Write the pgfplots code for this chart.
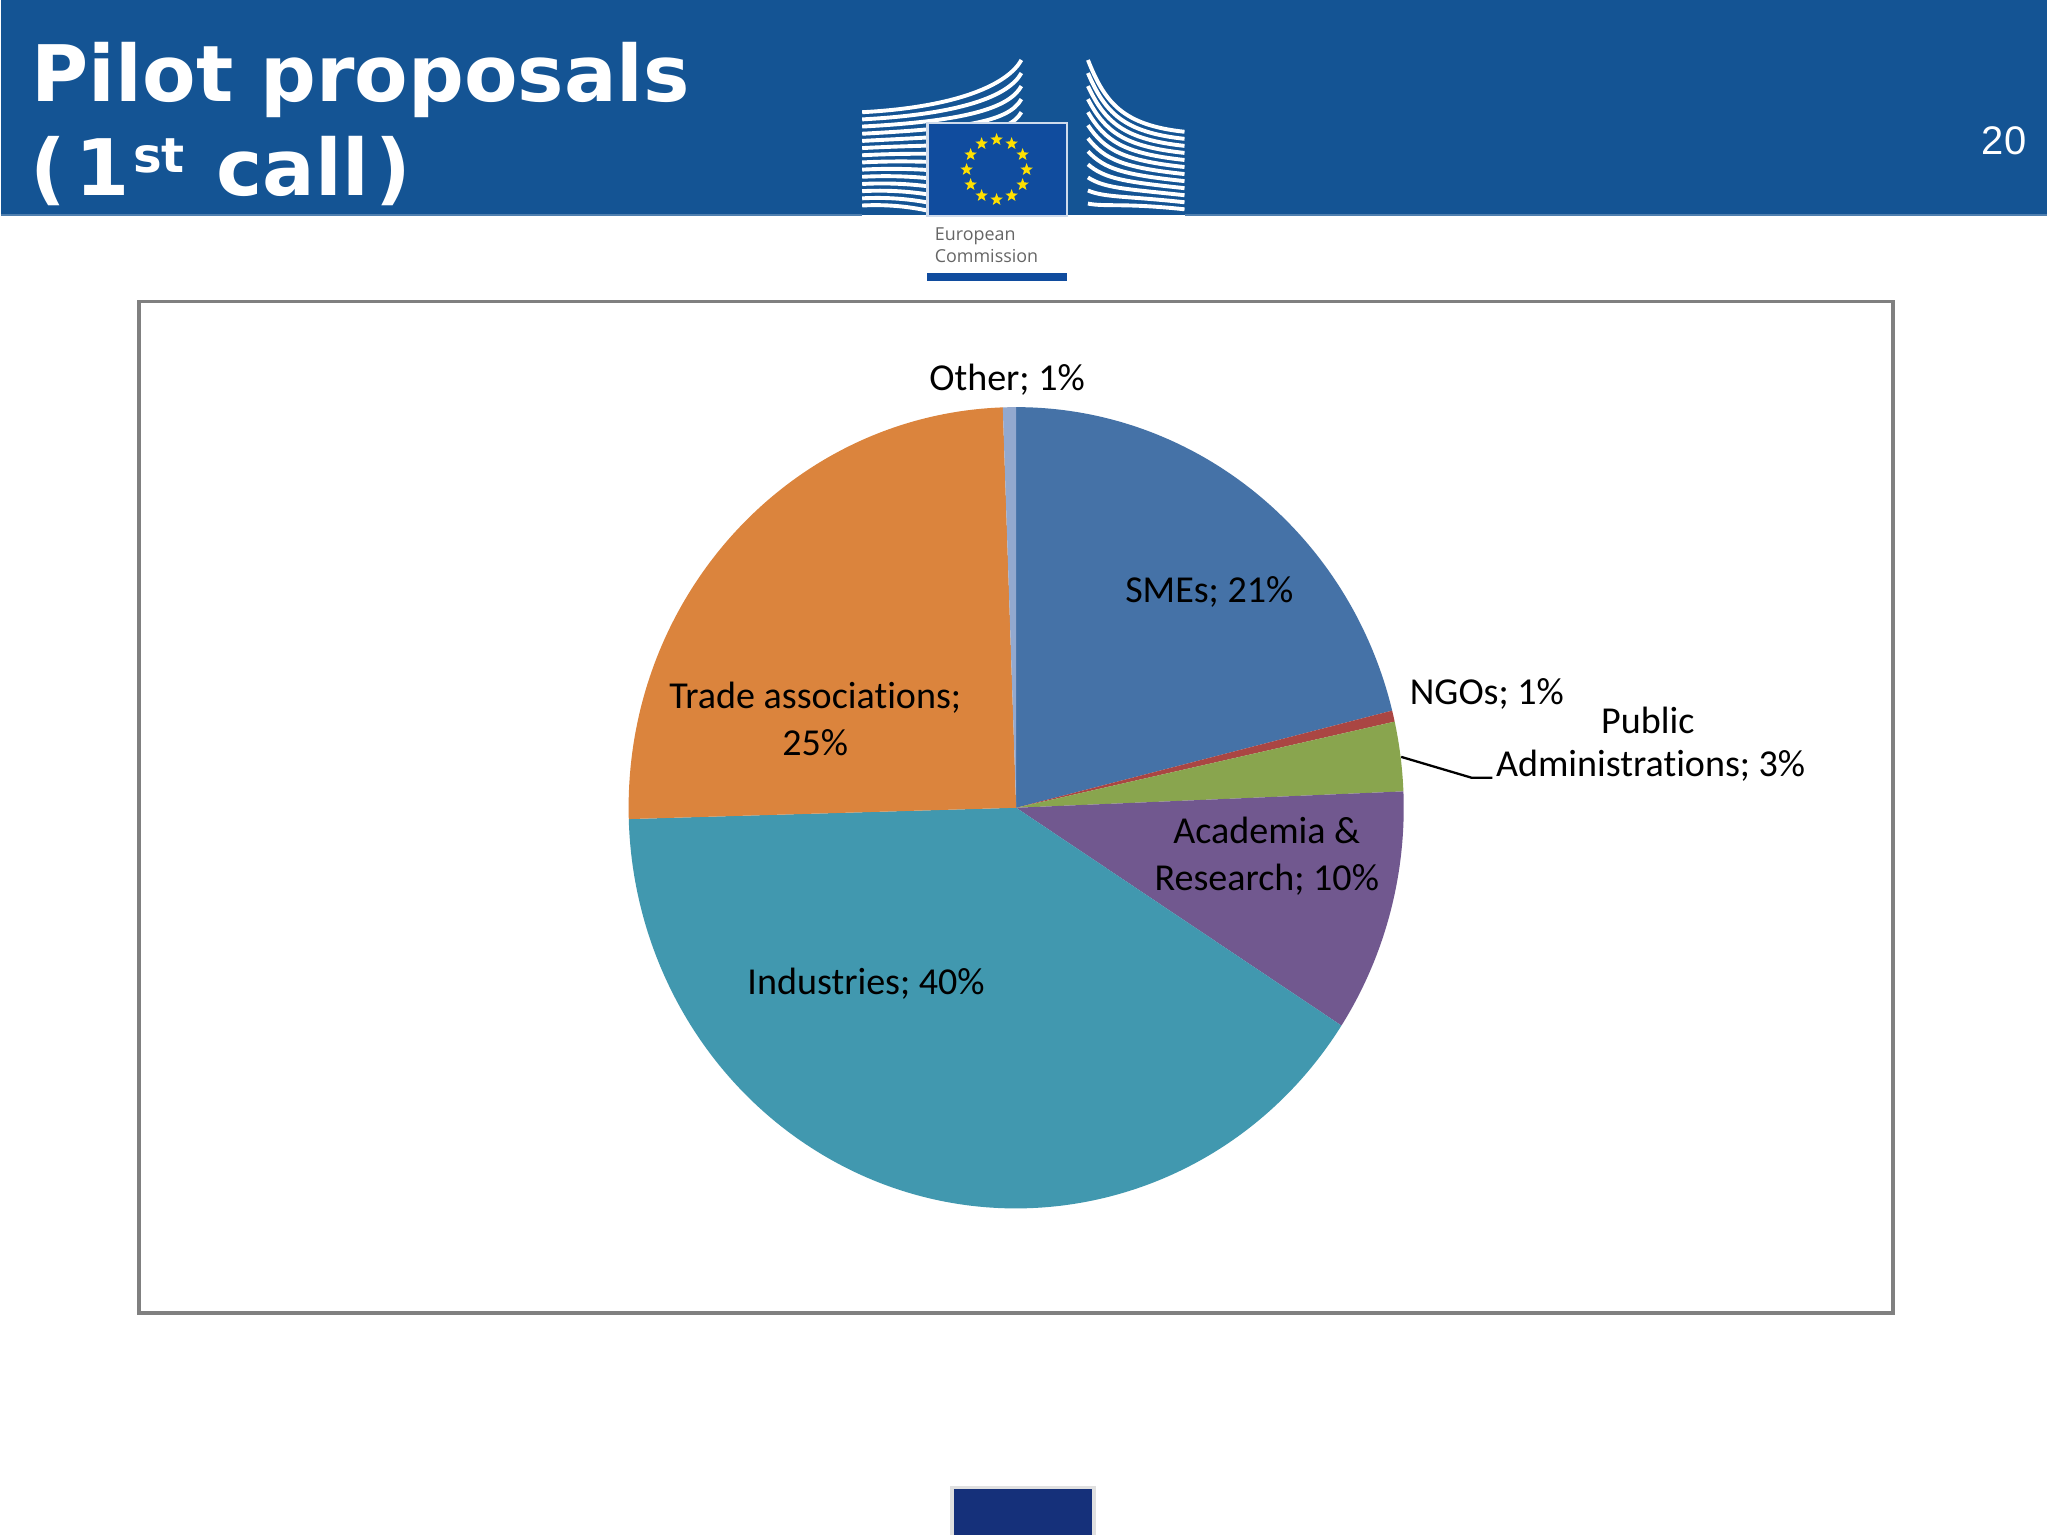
\documentclass[border=0pt]{standalone}
\usepackage{pgfplots}
\pgfplotsset{compat=1.18}
\usepackage{pgfplotstable}
\usepackage{fontspec}
\usetikzlibrary{shapes.geometric}
\setmainfont{Carlito}[Ligatures=CommonOff]
\newfontfamily\titlefont{DejaVu Sans}
\newfontfamily\numfont{Liberation Sans}
\newfontfamily\logofont{Open Sans}

\definecolor{band}{HTML}{145494}
\definecolor{flag}{HTML}{104C9E}
\definecolor{navy}{HTML}{15307A}
\definecolor{ecyellow}{HTML}{FFE000}
\definecolor{pie0}{HTML}{4572A7}
\definecolor{pie1}{HTML}{AA4643}
\definecolor{pie2}{HTML}{89A54E}
\definecolor{pie3}{HTML}{71588F}
\definecolor{pie4}{HTML}{4198AF}
\definecolor{pie5}{HTML}{DB843D}
\definecolor{pie6}{HTML}{93A9CF}

% shares, clockwise from 12 o'clock
\pgfplotstableread{
name value
SMEs 21.1
NGOs 0.45
Public 2.8
Academia 9.8
Industries 40.4
Trade 24.9
Other 0.55
}\piedata

\pgfplotstablegetrowsof{\piedata}
\pgfmathtruncatemacro\lastrow{\pgfplotsretval-1}
\gdef\cumsum{0}
\foreach \i in {0,...,\lastrow}{%
  \pgfplotstablegetelem{\i}{value}\of\piedata
  \pgfmathsetmacro\startang{90-3.6*\cumsum}%
  \pgfmathsetmacro\newcum{\cumsum+\pgfplotsretval}%
  \xdef\cumsum{\newcum}%
  \pgfmathsetmacro\endang{90-3.6*\cumsum}%
  \expandafter\xdef\csname pieA\i\endcsname{\startang}%
  \expandafter\xdef\csname pieB\i\endcsname{\endang}%
}
\newcommand\pieA[1]{\csname pieA#1\endcsname}
\newcommand\pieB[1]{\csname pieB#1\endcsname}

\begin{document}
\begin{tikzpicture}
\begin{axis}[
    width=15.68cm, height=11.76cm, scale only axis,
    xmin=0, xmax=1568, ymin=0, ymax=1176, y dir=reverse,
    enlargelimits=false, hide axis, clip=false]

  % page and header
  \fill[white] (axis cs:0,0) rectangle (axis cs:1568,1176);
  \fill[band] (axis cs:0,0) rectangle (axis cs:1568,165);
  \draw[color=band!75!white, line width=0.4pt] (axis cs:0,165) -- (axis cs:660,165);
  \draw[color=band!75!white, line width=0.4pt] (axis cs:907,165) -- (axis cs:1568,165);

  % logo: left building
  \pgfplotsinvokeforeach{0,...,13}{
    \draw[white, line width=0.85pt]
      (axis cs:660,{86+5.5*#1}) .. controls (axis cs:735,{82+5.5*#1}) and (axis cs:772,{64+10*#1}) .. (axis cs:782,{46+10*#1});
  }
  % logo: right building
  \pgfplotsinvokeforeach{0,...,11}{
    \draw[white, line width=0.85pt]
      (axis cs:833,{46+10*#1}) .. controls (axis cs:846,{79+7.24*#1}) and (axis cs:860,{96+5.4*#1}) .. (axis cs:907,{101+5.4*#1});
  }
  % flag
  \fill[flag, draw=white!80!flag, line width=0.5pt] (axis cs:710,94) rectangle (axis cs:817,165.5);
  \pgfplotsinvokeforeach{0,30,...,330}{
    \node[star, star points=5, star point ratio=2.4, fill=ecyellow, inner sep=0pt, minimum size=0.1cm]
      at (axis cs:{763+23*cos(#1)},{130-23*sin(#1)}) {};
  }
  \node[anchor=base west, inner sep=0pt, text=black!60, font=\logofont\fontsize{3.9}{4}\selectfont]
    at (axis cs:715,184) {European};
  \node[anchor=base west, inner sep=0pt, text=black!60, font=\logofont\fontsize{3.9}{4}\selectfont]
    at (axis cs:715,201) {Commission};
  \fill[flag] (axis cs:710,209) rectangle (axis cs:817,215);

  % title and page number
  \node[anchor=base west, inner sep=0pt, text=white, font=\titlefont\bfseries\fontsize{17}{17}\selectfont]
    at (axis cs:23,78) {Pilot proposals};
  \node[anchor=base west, inner sep=0pt, text=white, font=\titlefont\bfseries\fontsize{17}{17}\selectfont]
    at (axis cs:22,150) {(\kern2pt 1\kern0.8pt\raisebox{5pt}{\fontsize{10.5}{10.5}\selectfont st}\kern1pt\ call\kern1.5pt)};
  \node[inner sep=0pt, text=white, font=\numfont\fontsize{8.7}{9}\selectfont]
    at (axis cs:1535,108) {20};

  % chart frame
  \draw[black!50, line width=0.8pt] (axis cs:106,231) rectangle (axis cs:1450,1006);

  % pie slices
  \pgfplotsinvokeforeach{0,...,6}{
    \fill[pie#1] (axis cs:778,619)
      -- (axis cs:{778+297*cos(\pieA{#1})},{619-307*sin(\pieA{#1})})
      arc[start angle=\pieA{#1}, end angle=\pieB{#1}, x radius=2.97cm, y radius=3.07cm]
      -- cycle;
  }

  % labels
  \begin{scope}[every node/.style={inner sep=0pt, align=center, font=\fontsize{8.3}{10.2}\selectfont}]
    \node at (axis cs:771,291) {Other; 1\%};
    \node at (axis cs:926,454) {SMEs; 21\%};
    \node[anchor=west] at (axis cs:1079,532) {NGOs; 1\%};
    \node at (axis cs:1262,552) {Public};
    \node[anchor=west] at (axis cs:1145,587) {Administrations; 3\%};
    \node at (axis cs:624,551) {Trade associations;\\25\%};
    \node at (axis cs:970,656) {Academia \&\\Research; 10\%};
    \node at (axis cs:663,754) {Industries; 40\%};
  \end{scope}
  \draw[black, line width=0.5pt] (axis cs:1073,580) -- (axis cs:1127,596) -- (axis cs:1143,596);

  % footer block
  \fill[black!12] (axis cs:727,1139) rectangle (axis cs:839,1176);
  \fill[navy] (axis cs:730,1141) rectangle (axis cs:836,1176);
\end{axis}
\end{tikzpicture}
\end{document}
